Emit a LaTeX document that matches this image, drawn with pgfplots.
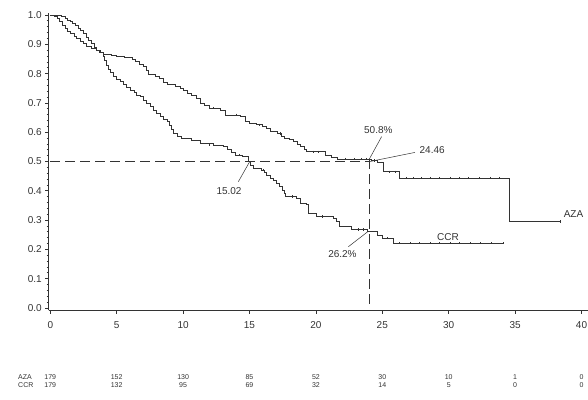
\documentclass[border=0pt]{standalone}
\usepackage{pgfplots}
\pgfplotsset{compat=1.18}
\usepackage{fontspec}
\setmainfont{Liberation Sans}
\definecolor{ink}{rgb}{0.2,0.2,0.2}
\tikzset{risk/.style={font=\fontsize{7}{8}\selectfont, text=ink, inner sep=0pt},
         ann/.style={font=\fontsize{10}{12}\selectfont, text=ink, inner sep=0pt}}
\begin{document}
\begin{tikzpicture}[x=1pt,y=1pt]
\useasboundingbox (0,0) rectangle (588,399);
\begin{axis}[
  at={(48.7pt,88.7pt)}, anchor=south west,
  scale only axis, width=539.3pt, height=297.6pt,
  xmin=-0.12, xmax=40.49, ymin=-0.00785, ymax=1.0078,
  axis x line=bottom, axis y line=left,
  axis line style={-, ink, line width=0.8pt},
  tick align=outside, tick style={ink, line width=0.7pt},
  major tick length=3.5pt, minor tick length=2pt,
  xtick={0,5,...,40}, ytick={0,0.1,...,1.0},
  minor y tick num=4,
  yticklabel style={/pgf/number format/fixed, /pgf/number format/fixed zerofill, /pgf/number format/precision=1},
  /pgf/number format/assume math mode=true,
  ticklabel style={font=\fontsize{10}{12}\selectfont, text=ink},
  xticklabel style={yshift=-4.5pt},
  clip=false,
  every axis plot/.append style={ink, line width=0.75pt},
]
% AZA
\addplot[const plot] coordinates {
(0,1.000) (0.3,0.994) (0.5,0.989) (0.7,0.978) (0.9,0.966) (1.1,0.955) (1.3,0.944)
(1.5,0.937) (1.8,0.926) (2.0,0.920) (2.3,0.909) (2.5,0.903) (2.75,0.892) (3.1,0.886)
(3.5,0.880) (3.8,0.872) (4.0,0.866) (4.6,0.861) (5.0,0.858) (5.6,0.855) (6.2,0.849)
(6.4,0.841) (6.7,0.832) (7.0,0.824) (7.2,0.810) (7.4,0.798) (7.9,0.790) (8.2,0.782)
(8.5,0.770) (8.8,0.762) (9.4,0.756) (9.8,0.750) (10.0,0.742) (10.3,0.733) (10.6,0.727)
(11.0,0.716) (11.3,0.700) (11.6,0.693) (12.0,0.682) (12.8,0.676) (13.2,0.659) (14.3,0.653)
(14.7,0.636) (15.0,0.630) (15.5,0.625) (16.0,0.619) (16.3,0.613) (16.6,0.602) (17.1,0.596)
(17.4,0.587) (17.6,0.579) (18.0,0.574) (18.3,0.568) (18.6,0.560) (18.8,0.551) (19.1,0.542)
(19.3,0.533) (20.7,0.522) (21.2,0.514) (21.6,0.508) (24.2,0.503) (24.6,0.497) (25.1,0.465)
(26.3,0.443) (34.6,0.295) (38.4,0.295)
};
% CCR
\addplot[const plot] coordinates {
(0,1.000) (0.8,0.994) (1.1,0.989) (1.3,0.983) (1.5,0.977) (1.7,0.970) (1.9,0.963)
(2.1,0.955) (2.3,0.947) (2.5,0.936) (2.7,0.925) (2.9,0.912) (3.1,0.903) (3.3,0.891)
(3.5,0.880) (3.7,0.872) (4.0,0.858) (4.1,0.845) (4.25,0.829) (4.4,0.816) (4.55,0.803)
(4.75,0.789) (5.0,0.780) (5.25,0.772) (5.5,0.763) (5.75,0.754) (6.0,0.744) (6.3,0.735)
(6.5,0.727) (6.75,0.721) (7.0,0.710) (7.25,0.699) (7.5,0.687) (7.75,0.676) (8.0,0.665)
(8.3,0.654) (8.55,0.645) (8.8,0.636) (8.95,0.622) (9.1,0.608) (9.3,0.596) (9.6,0.587)
(9.9,0.579) (10.6,0.573) (11.3,0.562) (12.3,0.556) (13.0,0.551) (13.3,0.541) (13.6,0.531)
(13.9,0.522) (14.5,0.516) (14.9,0.500) (15.1,0.488) (15.3,0.477) (15.9,0.471) (16.1,0.462)
(16.3,0.452) (16.55,0.443) (16.8,0.435) (17.05,0.426) (17.25,0.414) (17.45,0.403) (17.6,0.391)
(17.7,0.380) (18.55,0.374) (18.8,0.357) (19.3,0.352) (19.45,0.323) (20.05,0.312) (21.3,0.306)
(21.55,0.295) (21.8,0.277) (22.7,0.268) (23.9,0.262) (24.6,0.249) (25.0,0.238) (25.8,0.221)
(34.1,0.221)
};
% censor marks AZA
\addplot[only marks, mark=|, mark size=1.2pt, line width=0.5pt] coordinates {
(12.3,0.682) (14.0,0.659) (15.7,0.625) (17.3,0.596) (19.8,0.533) (20.2,0.533)
(22.2,0.508) (22.9,0.508) (23.4,0.508) (23.8,0.508) (24.4,0.503) (25.5,0.465) (26.0,0.465)
(26.8,0.443) (27.3,0.443) (27.9,0.443) (28.6,0.443) (29.3,0.443) (30.1,0.443) (30.8,0.443)
(31.5,0.443) (32.3,0.443) (33.1,0.443) (33.8,0.443) (38.4,0.295)
};
% censor marks CCR
\addplot[only marks, mark=|, mark size=1.2pt, line width=0.5pt] coordinates {
(12.0,0.556) (14.2,0.522) (16.0,0.471) (18.2,0.380) (20.5,0.312) (23.2,0.268) (23.6,0.268)
(25.4,0.238) (26.3,0.221) (27.1,0.221) (27.8,0.221) (28.6,0.221) (29.3,0.221) (30.1,0.221)
(30.8,0.221) (31.6,0.221) (32.4,0.221) (33.2,0.221) (34.1,0.221)
};
% median reference lines
\addplot[line width=0.6pt, dash pattern=on 10pt off 5pt] coordinates {(0,0.5) (24,0.5)};
\addplot[line width=0.6pt, dash pattern=on 10pt off 5pt] coordinates {(24,0.508) (24,0)};
% annotation leader lines
\addplot[line width=0.5pt] coordinates {(24.02,0.508) (24.95,0.585)};
\addplot[line width=0.5pt] coordinates {(24.08,0.5) (27.46,0.531)};
\addplot[line width=0.5pt] coordinates {(15.02,0.5) (14.16,0.431)};
\addplot[line width=0.5pt] coordinates {(23.95,0.262) (22.44,0.209)};
\node[ann] at (axis cs:24.7,0.6075) {50.8\%};
\node[ann, anchor=west] at (axis cs:27.8,0.539) {24.46};
\node[ann] at (axis cs:13.46,0.40) {15.02};
\node[ann] at (axis cs:22.0,0.184) {26.2\%};
\node[ann] at (axis cs:29.95,0.243) {CCR};
\node[ann] at (axis cs:39.4,0.32) {AZA};
% number at risk
\node[risk, anchor=west] at (axis cs:-2.43,-0.2365) {AZA};
\node[risk, anchor=west] at (axis cs:-2.43,-0.263) {CCR};
\node[risk] at (axis cs:0,-0.2365) {179};  \node[risk] at (axis cs:0,-0.263) {179};
\node[risk] at (axis cs:5,-0.2365) {152};  \node[risk] at (axis cs:5,-0.263) {132};
\node[risk] at (axis cs:10,-0.2365) {130}; \node[risk] at (axis cs:10,-0.263) {95};
\node[risk] at (axis cs:15,-0.2365) {85};  \node[risk] at (axis cs:15,-0.263) {69};
\node[risk] at (axis cs:20,-0.2365) {52};  \node[risk] at (axis cs:20,-0.263) {32};
\node[risk] at (axis cs:25,-0.2365) {30};  \node[risk] at (axis cs:25,-0.263) {14};
\node[risk] at (axis cs:30,-0.2365) {10};  \node[risk] at (axis cs:30,-0.263) {5};
\node[risk] at (axis cs:35,-0.2365) {1};   \node[risk] at (axis cs:35,-0.263) {0};
\node[risk] at (axis cs:40,-0.2365) {0};   \node[risk] at (axis cs:40,-0.263) {0};
\end{axis}
\end{tikzpicture}
\end{document}
